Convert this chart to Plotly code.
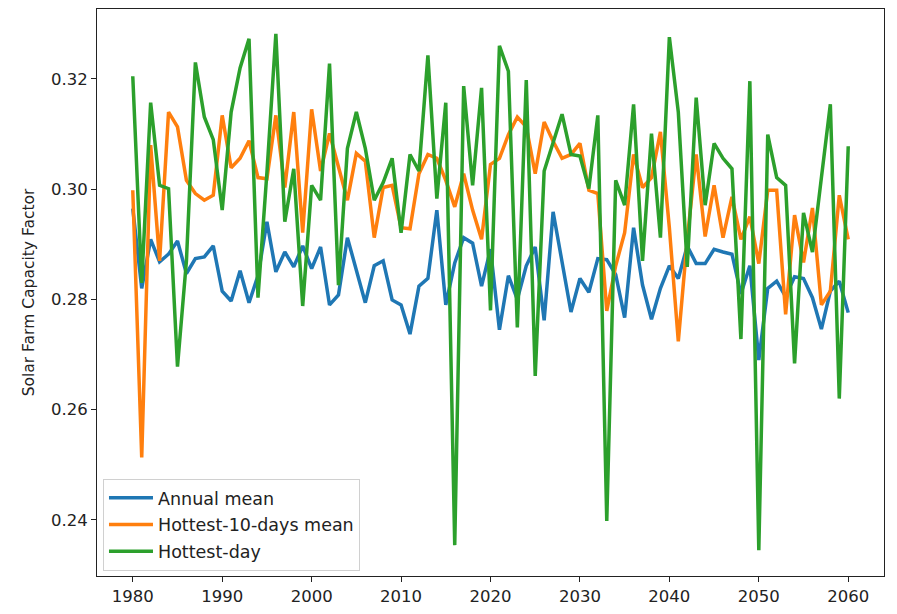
import plotly.graph_objects as go

years = list(range(1980, 2061))

annual_mean = [
    0.2965, 0.2820, 0.2909, 0.2868, 0.2882, 0.2906, 0.2847, 0.2874, 0.2877, 0.2897,
    0.2815, 0.2797, 0.2852, 0.2794, 0.2843, 0.2941, 0.2850, 0.2886, 0.2859, 0.2897,
    0.2856, 0.2895, 0.2790, 0.2808, 0.2912, 0.2852, 0.2794, 0.2861, 0.2870, 0.2799,
    0.2790, 0.2737, 0.2824, 0.2838, 0.2962, 0.2790, 0.2866, 0.2912, 0.2902, 0.2824,
    0.2891, 0.2745, 0.2843, 0.2800, 0.2861, 0.2895, 0.2762, 0.2959, 0.2868, 0.2777,
    0.2838, 0.2813, 0.2874, 0.2872, 0.2845, 0.2767, 0.2930, 0.2826, 0.2764, 0.2820,
    0.2861, 0.2838, 0.2897, 0.2865, 0.2865, 0.2891, 0.2886, 0.2882, 0.2810, 0.2861,
    0.2690, 0.2820, 0.2833, 0.2805, 0.2841, 0.2838, 0.2803, 0.2746, 0.2815, 0.2833,
    0.2776,
]

hottest_10_days = [
    0.2998, 0.2513, 0.3080, 0.2870, 0.3140, 0.3113, 0.3016, 0.2992, 0.2980, 0.2989,
    0.3134, 0.3039, 0.3056, 0.3088, 0.3021, 0.3019, 0.3134, 0.3003, 0.3140, 0.2921,
    0.3145, 0.3033, 0.3101, 0.3039, 0.2980, 0.3065, 0.3051, 0.2912, 0.3003, 0.3007,
    0.2930, 0.2928, 0.3028, 0.3063, 0.3056, 0.3016, 0.2968, 0.3028, 0.2962, 0.2909,
    0.3045, 0.3056, 0.3099, 0.3131, 0.3113, 0.3028, 0.3122, 0.3087, 0.3056, 0.3063,
    0.3083, 0.2998, 0.2992, 0.2779, 0.2861, 0.2921, 0.3063, 0.3003, 0.3021, 0.3104,
    0.2930, 0.2724, 0.2909, 0.3063, 0.2914, 0.3007, 0.2912, 0.2986, 0.2909, 0.2950,
    0.2865, 0.2998, 0.2998, 0.2773, 0.2953, 0.2867, 0.2966, 0.2790, 0.2815, 0.2989,
    0.2909,
]

hottest_day = [
    0.3205, 0.2830, 0.3157, 0.3007, 0.3001, 0.2678, 0.2870, 0.3230, 0.3131, 0.3090,
    0.2962, 0.3140, 0.3220, 0.3273, 0.2803, 0.3030, 0.3282, 0.2941, 0.3037, 0.2788,
    0.3007, 0.2980, 0.3228, 0.2826, 0.3074, 0.3140, 0.3074, 0.2980, 0.3012, 0.3056,
    0.2921, 0.3063, 0.3033, 0.3243, 0.2983, 0.3157, 0.2354, 0.3187, 0.3007, 0.3184,
    0.2780, 0.3260, 0.3214, 0.2749, 0.3198, 0.2661, 0.3033, 0.3087, 0.3136, 0.3063,
    0.3060, 0.3001, 0.3134, 0.2398, 0.3016, 0.2971, 0.3154, 0.2870, 0.3101, 0.2912,
    0.3276, 0.3140, 0.2859, 0.3166, 0.2971, 0.3083, 0.3056, 0.3037, 0.2728, 0.3196,
    0.2345, 0.3099, 0.3021, 0.3007, 0.2684, 0.2957, 0.2886, 0.3021, 0.3154, 0.2620,
    0.3078,
]

series = [
    ("Annual mean", annual_mean, "#1f77b4"),
    ("Hottest-10-days mean", hottest_10_days, "#ff7f0e"),
    ("Hottest-day", hottest_day, "#2ca02c"),
]

fig = go.Figure()
for name, values, color in series:
    fig.add_trace(go.Scatter(
        x=years, y=values, name=name, mode="lines", legendgroup=name,
        line=dict(color=color, width=3.5),
    ))

axis_style = dict(
    showline=True, linecolor="#222", linewidth=1, mirror=True,
    ticks="outside", ticklen=5, tickcolor="#222", tickwidth=1,
    showgrid=False, zeroline=False,
    tickfont=dict(family="DejaVu Sans", size=16.5, color="#222"),
)

fig.update_layout(
    width=897, height=614,
    margin=dict(l=97, r=13, t=8, b=36),
    paper_bgcolor="white", plot_bgcolor="white",
    font=dict(family="DejaVu Sans", size=16, color="#222"),
    xaxis=dict(range=[1976, 2064], tickvals=list(range(1980, 2061, 10)), **axis_style),
    yaxis=dict(
        range=[0.2298, 0.3327], tickvals=[0.24, 0.26, 0.28, 0.30, 0.32],
        tickformat=".2f",
        title=dict(text="Solar Farm Capacity Factor", font=dict(size=15.5), standoff=12),
        **axis_style,
    ),
    legend=dict(
        x=0.0076, y=0.009, xanchor="left", yanchor="bottom",
        bgcolor="white", bordercolor="#d0d0d0", borderwidth=1,
        font=dict(size=17.5), itemwidth=44, tracegroupgap=1,
    ),
    showlegend=True,
)

fig.write_html("out.html")
